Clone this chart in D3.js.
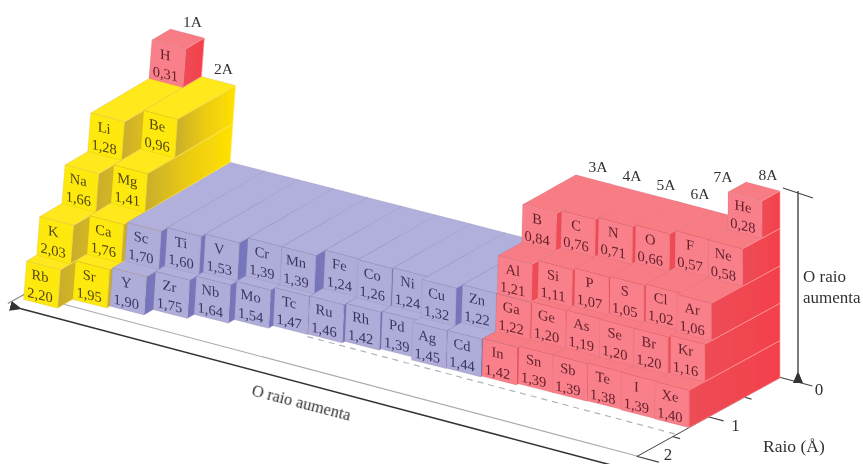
<!DOCTYPE html>
<html>
<head>
  <meta charset="utf-8" />
  <title>O raio aumenta</title>
  <script src="https://d3js.org/d3.v7.min.js"></script>
  <style>
    html, body { margin: 0; background: #fff; }
    svg { display: block; }
    text { font-family: "Liberation Serif", serif; fill: #333; }
  </style>
</head>
<body>
  <svg id="chart" width="863" height="464"></svg>
  <script>
    // periods, top to bottom
    const period1Symbols = ["H", "He"];
    const period1Radii = [0.31, 0.28];
    const period1Columns = [1, 18];

    const period2Symbols = ["Li", "Be", "B", "C", "N", "O", "F", "Ne"];
    const period2Radii = [1.28, 0.96, 0.84, 0.76, 0.71, 0.66, 0.57, 0.58];
    const period2Columns = [1, 2, 13, 14, 15, 16, 17, 18];

    const period3Symbols = ["Na", "Mg", "Al", "Si", "P", "S", "Cl", "Ar"];
    const period3Radii = [1.66, 1.41, 1.21, 1.11, 1.07, 1.05, 1.02, 1.06];
    const period3Columns = [1, 2, 13, 14, 15, 16, 17, 18];

    const period4Symbols = ["K", "Ca", "Sc", "Ti", "V", "Cr", "Mn", "Fe", "Co", "Ni", "Cu", "Zn", "Ga", "Ge", "As", "Se", "Br", "Kr"];
    const period4Radii = [2.03, 1.76, 1.70, 1.60, 1.53, 1.39, 1.39, 1.24, 1.26, 1.24, 1.32, 1.22, 1.22, 1.20, 1.19, 1.20, 1.20, 1.16];

    const period5Symbols = ["Rb", "Sr", "Y", "Zr", "Nb", "Mo", "Tc", "Ru", "Rh", "Pd", "Ag", "Cd", "In", "Sn", "Sb", "Te", "I", "Xe"];
    const period5Radii = [2.20, 1.95, 1.90, 1.75, 1.64, 1.54, 1.47, 1.46, 1.42, 1.39, 1.45, 1.44, 1.42, 1.39, 1.39, 1.38, 1.39, 1.40];

    const allColumns = d3.range(1, 19);

    const groupNames = ["1A", "2A", "3A", "4A", "5A", "6A", "7A", "8A"];
    const groupColumns = [1, 2, 13, 14, 15, 16, 17, 18];
    const groupPeriods = [1, 2, 2, 2, 2, 2, 2, 1];

    const radiusTicks = [0, 0.5, 1, 1.5, 2];
    const radiusTickLabels = ["0", "1", "2"];

    const periods = [
      [period1Symbols, period1Radii, period1Columns],
      [period2Symbols, period2Radii, period2Columns],
      [period3Symbols, period3Radii, period3Columns],
      [period4Symbols, period4Radii, allColumns],
      [period5Symbols, period5Radii, allColumns]
    ];

    const cells = [];
    periods.forEach(([symbols, radii, columns], i) => {
      symbols.forEach((s, j) => cells.push({ symbol: s, radius: radii[j], col: columns[j], row: i + 1 }));
    });

    // oblique projection, with a little drift across the columns for the perspective
    const colX = d3.scaleLinear().domain([1, 19]).range([170.5, 780]);
    const colY = d3.scaleLinear().domain([1, 19]).range([29, 191]);
    const rowFrac = d3.scaleLinear().domain([1, 6]).range([0, 1]);
    const wallX = d3.scaleLinear().domain([1, 19]).range([-15, 0]);
    const wallY = d3.scaleLinear().domain([1, 19]).range([192.5, 187]);
    const depthX = d3.scaleLinear().domain([1, 19]).range([-60, -65]);
    const depthY = 35.5;

    const project = (col, row, r) => [
      colX(col) + rowFrac(row) * wallX(col) + r * depthX(col),
      colY(col) + rowFrac(row) * wallY(col) + r * depthY
    ];

    // floor of the axes, slightly wider depth than the bars
    const floorX = d3.scaleLinear().domain([0, 2]).range([0, -143]);
    const floorY = d3.scaleLinear().domain([0, 2]).range([0, 79]);
    const floor = (col, r) => [780 - (19 - col) * 34 + floorX(r), 377 - (19 - col) * 9 + floorY(r)];

    const svg = d3.select("#chart");
    const defs = svg.append("defs");

    const palette = {
      yellow: { front: "#fde910", top: "#ffe81c", text: "#544510", seam: "rgba(255,240,120,0.5)", stops: ["#c9ad2c", "#eccb12", "#ffe200"] },
      purple: { front: "#aeacd8", top: "#b1afdb", text: "#3a3664", seam: "rgba(190,190,230,0.4)", stops: ["#7573ba", "#8a88c6", "#a09ed2"] },
      red: { front: "#f9808a", top: "#f87c84", text: "#64202c", seam: "rgba(255,160,165,0.65)", stops: ["#ee4c56", "#f04650", "#f4404c"] }
    };

    Object.entries(palette).forEach(([name, p]) => {
      const g = defs.append("linearGradient").attr("id", "side-" + name);
      p.stops.forEach((c, i) => g.append("stop").attr("offset", i / 2).attr("stop-color", c));
    });

    defs.append("filter").attr("id", "soft")
      .append("feGaussianBlur").attr("stdDeviation", 0.45);

    defs.append("marker").attr("id", "head")
      .attr("viewBox", "0 0 12 10").attr("refX", 1).attr("refY", 5)
      .attr("markerWidth", 12).attr("markerHeight", 10)
      .attr("markerUnits", "userSpaceOnUse").attr("orient", "auto-start-reverse")
      .append("path").attr("d", "M12,0 L0,5 L12,10 Z").attr("fill", "#333");

    const family = d => {
      if (d.symbol === "H" || d.col >= 13) return "red";
      return d.col <= 2 ? "yellow" : "purple";
    };

    const root = svg.append("g").attr("filter", "url(#soft)");
    const lineGen = d3.line();

    // axes on the floor
    const floorLines = root.append("g").attr("fill", "none");
    floorLines.append("path")
      .attr("d", lineGen([floor(1, 2), floor(19, 2)]))
      .attr("stroke", "#aaa").attr("stroke-width", 1.2);
    floorLines.append("path")
      .attr("d", lineGen([floor(1, 2), floor(1, 2.24)]))
      .attr("stroke", "#888").attr("stroke-width", 1.2);
    floorLines.append("path")
      .attr("d", lineGen([floor(8.15, 1.45), floor(19, 1.45)]))
      .attr("stroke", "#a9b6bd").attr("stroke-width", 1.2).attr("stroke-dasharray", "6 5");
    floorLines.append("path")
      .attr("d", lineGen([floor(1.45, 2.27), floor(19, 2.27)]))
      .attr("stroke", "#333").attr("stroke-width", 1.6)
      .attr("marker-start", "url(#head)");

    // radius axis, sheared so that its ticks run along the table columns
    const radiusScale = d3.scaleLinear().domain([0, 2]).range([0, 163.7]);
    const radiusAxis = d3.axisBottom(radiusScale)
      .tickValues(radiusTicks).tickFormat("").tickSizeOuter(0);
    const [ox, oy] = floor(19, 0);
    const ux = floorX(2) / 163.7, uy = floorY(2) / 163.7;
    const radiusG = root.append("g")
      .attr("transform", `matrix(${ux},${uy},0.966,0.257,${ox},${oy})`)
      .call(radiusAxis);
    radiusG.select(".domain").attr("stroke", "#444").attr("vector-effect", "non-scaling-stroke");
    radiusG.selectAll(".tick line")
      .attr("y2", d => d === 0 ? 34 : d === 1 ? 16 : d === 2 ? 23 : 8)
      .attr("stroke", "#444").attr("stroke-width", 1.2)
      .attr("vector-effect", "non-scaling-stroke");

    const tickLabelDx = { 0: 39, 1: 27, 2: 31 };
    const tickLabelDy = { 0: 18, 1: 14, 2: 4 };
    radiusTickLabels.forEach(t => {
      const [x, y] = floor(19, +t);
      root.append("text").attr("x", x + tickLabelDx[t]).attr("y", y + tickLabelDy[t])
        .attr("text-anchor", "middle").attr("font-size", 17).text(t);
    });

    // bars, painted from the bottom period up and left to right
    const bars = root.append("g").selectAll("g")
      .data(d3.sort(cells, d => -d.row, d => d.col))
      .join("g");

    const poly = pts => pts.map(p => p.join(",")).join(" ");

    bars.append("polygon") // top
      .attr("points", d => poly([
        project(d.col, d.row, 0), project(d.col + 1, d.row, 0),
        project(d.col + 1, d.row, d.radius), project(d.col, d.row, d.radius)]))
      .attr("fill", d => palette[family(d)].top)
      .attr("stroke", "rgba(90,80,110,0.18)").attr("stroke-width", 0.6);

    bars.append("polygon") // right side
      .attr("points", d => poly([
        project(d.col + 1, d.row, d.radius), project(d.col + 1, d.row, 0),
        project(d.col + 1, d.row + 1, 0), project(d.col + 1, d.row + 1, d.radius)]))
      .attr("fill", d => `url(#side-${family(d)})`)
      .attr("stroke", d => palette[family(d)].seam).attr("stroke-width", 1);

    bars.append("polygon") // front
      .attr("points", d => poly([
        project(d.col, d.row, d.radius), project(d.col + 1, d.row, d.radius),
        project(d.col + 1, d.row + 1, d.radius), project(d.col, d.row + 1, d.radius)]))
      .attr("fill", d => palette[family(d)].front)
      .attr("stroke", "rgba(120,60,60,0.15)").attr("stroke-width", 0.6);

    const labels = bars.append("g")
      .attr("transform", d => {
        const [x, y] = project(d.col + 0.5, d.row + 0.5, d.radius);
        return `translate(${x - 2},${y}) skewY(13)`;
      })
      .attr("text-anchor", "middle")
      .attr("font-size", 14.5)
      .style("fill", d => palette[family(d)].text);
    labels.append("text").attr("y", -4).style("fill", "inherit").text(d => d.symbol);
    labels.append("text").attr("y", 15).style("fill", "inherit")
      .text(d => d3.format(".2f")(d.radius).replace(".", ","));

    // group headings
    root.append("g").selectAll("text")
      .data(groupNames)
      .join("text")
      .attr("transform", (d, i) => {
        const [x, y] = project(groupColumns[i] + 0.5, groupPeriods[i], 0);
        return d === "7A" ? `translate(${x - 6},${y - 33})` : `translate(${x + 5},${y - 7})`;
      })
      .attr("text-anchor", "middle").attr("font-size", 15.5)
      .text(d => d);

    // vertical arrow on the right
    const right = root.append("g").attr("stroke", "#444").attr("fill", "none");
    right.append("path").attr("d", lineGen([[783, 188], [813, 198]])).attr("stroke-width", 1.2);
    right.append("path").attr("d", lineGen([[798, 191], [798, 372]]))
      .attr("stroke-width", 1.4).attr("marker-end", "url(#head)");

    root.append("text").attr("x", 803).attr("y", 282).attr("font-size", 17).text("O raio");
    root.append("text").attr("x", 803).attr("y", 303).attr("font-size", 17).text("aumenta");
    root.append("text").attr("x", 763).attr("y", 452).attr("font-size", 17.5).text("Raio (Å)");
    root.append("text")
      .attr("transform", "translate(300,408) rotate(14.5)")
      .attr("text-anchor", "middle").attr("font-size", 16.5)
      .text("O raio aumenta");
  </script>
</body>
</html>
